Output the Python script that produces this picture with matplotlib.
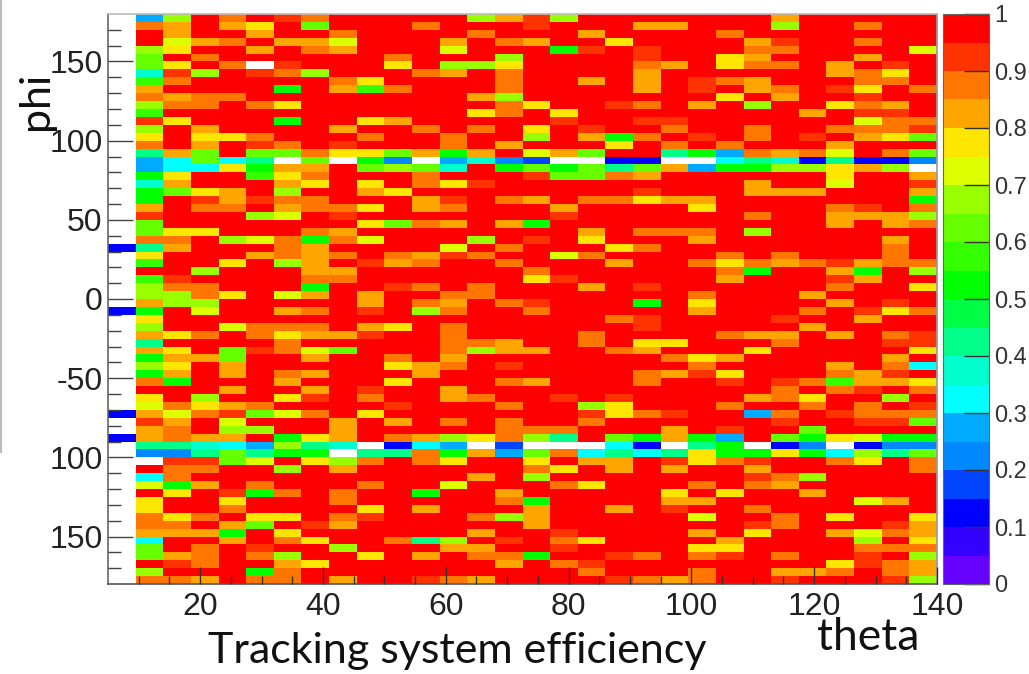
"""Tracking system efficiency map in theta and phi, ROOT COLZ look."""
import matplotlib

matplotlib.use("Agg")
import matplotlib.pyplot as plt  # noqa: E402
import numpy as np  # noqa: E402
from matplotlib.colors import BoundaryNorm, ListedColormap  # noqa: E402
from matplotlib.lines import Line2D  # noqa: E402

W, H = 1029, 674

# 20 palette steps of the colour bar, from 0 up to 1.
PALETTE = [
    "#6600ff", "#3300ff", "#0000ff", "#0044ff", "#0088ff",
    "#00aaff", "#00ffff", "#00ffcc", "#00ff88", "#00ff44",
    "#00ff00", "#33ff00", "#66ff00", "#99ff00", "#ddff00",
    "#ffe600", "#ffa500", "#ff7700", "#ff3300", "#ff0000",
]

# Cell codes: "." is about 0.98, "_" is an empty (white) cell.
CODE_VALUES = {
    ".": 0.98, "a": 0.93, "b": 0.88, "c": 0.83, "d": 0.78, "e": 0.73,
    "f": 0.68, "g": 0.63, "h": 0.58, "i": 0.53, "j": 0.48, "k": 0.43,
    "l": 0.38, "m": 0.33, "n": 0.28, "o": 0.23, "p": 0.18, "q": 0.13,
    "_": np.nan,
}

# One string per phi bin, top row (phi = 180) first; one character per theta bin.
EFF_ROWS = [
    "_nf.b.ab.....fc" "af.......c.....",
    "_bc.cd.g...b..." "a...cc...f..b..",
    "_.c..c..b....b." "..c....b.......",
    "_.ecb.cce...c.b" "c..d....ca..b..",
    "_fd..c.bc...e.." ".ia.a...bb....e",
    "_g.b......b...f" "....a..dc...c..",
    "_gd.b_a...d.ffd" "....bc.dbb.c.a.",
    "_laf.abf...bc.b" "....c......cbd.",
    "_hb.....bd....b" "..c.c.abc...bb.",
    "_c....i.chb...b" "....c.a.cb.ad.b",
    "_bcbb........cf" ".......d.c..a..",
    "_fbb.bd.......b" "d..ab.c.f..dbc.",
    "_h...........db" ".d........c.aa.",
    "_ad...i..dc...." ".a..aa......ebb",
    "_f.c....c..b.b." "d.a..b..b..bbba",
    "_d.ddb...b..b.." "f.cib.a.b.a.cdg",
    "_b.c.ab.a...b.c" "...d.b.b...c...",
    "_kcg.ggbddgcic." "ecg..kinbcbe.bg",
    "_nmgmk_g_io_nlo" "p__qq__mklqkqqo",
    "_nmmdicc.gfgl.i" "gigkgcniiffdcf_",
    "_id..hdb...b..." "aggbc......d..c",
    "_lc...cd.d.bda." "........c..e..a",
    "_igdc.f..cd...." "....a...ccc...c",
    "_i.acabb...ca.b" "c.bbdcc.......i",
    "_c.bb.cbbd.cb.." ".c....d....ba.b",
    "_a...fe.a......" ".a......b..cccf",
    "_g.......dgbc.c" "i..........c.cb",
    "_gdd...bc......" "..c.bbb.f......",
    "_bb.febibe...f." "a.d...c......c.",
    "qkc...bc....e.b" "...db........b.",
    "_d...cbcb.bcab." ".eb....b.b...b.",
    "_h..d.fc.acb..b" "...c..bdbcbacbb",
    "_..f...cc......" "b......bi..ci.f",
    "_ha....bb......" "da.....c...ac..",
    "_fbb...i..ab.b." "..c.a......b..d",
    "_ffbd.ec.c..bb." "......b...c....",
    "_cff.....c.bc.b" "a...i.d....c.a.",
    "qi.e..cb.a.fb.." "b.....c...b.adb",
    "_d............." "...ba....a..c..",
    "_f..ebbb.cd.b.." "....a.....c....",
    "_cdb.bdcca..b.." "..b....bcc.c.ba",
    "_k....b.....bbc" "..b.dd...b...aa",
    "_cd.gabeg...bfc" "c..bc...d.....d",
    "_iccg..c..b.c.." ".....bdc.....c.",
    "_fd.c.....dcb.a" "......b....c.bm",
    "_ic.c.bc...c..." "....bcad...bca.",
    "_bi...c...d...b" "c...b..a.abhccd",
    "_...c..c.a..c.." ".........b.ba.b",
    "_d.f..da.b..cb." ".a.a....cbd..f.",
    "_ebdcb....a...b" "..fd...b..b.b.a",
    "qcebageb.d....." "..adba..nb.abbb",
    "_ac.e...c.c.b.b" "..b......a..aag",
    "_cb.ff..c.....b" "bb...c.a..g....",
    "qcbcc.idc.bcfdb" "fk.gicin.gideii",
    "_kklmnfkl_qmn_p" "___mq_ki_qo_qoo",
    "_ookgkii_kkbicn" "gbmkmkdiidimfkg",
    "__aage.dfb.bd.." "d.cc.adba..bd.b",
    "_.bb..f.c......" "bd.c.c..c.....b",
    "_mb..........c." "f.......abf....",
    "_eic.b...b..e.." ".bd...b.bc.....",
    "_.d.aib.b..i..c" ".....d.d..c....",
    "_d..d...b.....b" "i....cc.....ec.",
    "_d..b....d.c..." "c..c.a..b......",
    "_bdb.dd.ba...bf" "c.....e..b.d..d",
    "_bb.cg.ac......" "c.......ab...ac",
    "_ccci.d......c." ".a....c.d..cebc",
    "_m..c.bd..bkf.a" ".bd....c....f.d",
    "_g.b.a..f...cc." ".a....dd....bbb",
    "_gcb.bf..d.c.bb" "i..ab.ba.b..a.f",
    "_.ab..cd......c" ".ba........dabc",
    "_f...ib........" "..b...b..ccb.bc",
    "_bbc.bb.c..abc." "...abcb..a...af",
]

THETA_RANGE = (5, 140)
PHI_RANGE = (-180, 180)
X_TICKS = [20, 40, 60, 80, 100, 120, 140]
X_MINOR = list(range(10, 140, 5))
Y_TICKS = [150, 100, 50, 0, -50, -100, -150]
Y_TICK_LABELS = ["150", "100", "50", "0", "-50", "100", "150"]
Y_MINOR = list(range(-170, 180, 10))
CBAR_TICKS = [0, 0.1, 0.2, 0.3, 0.4, 0.5, 0.6, 0.7, 0.8, 0.9, 1]
CBAR_LABELS = ["0", "0.1", "0.2", "0.3", "0.4", "0.5", "0.6", "0.7", "0.8", "0.9", "1"]

TICK_FONT = "Liberation Sans"
NOTE_FONT = "Lato"
TEXT = "#222222"


def px_axes(left, top, right, bottom):
    return [left / W, 1 - bottom / H, (right - left) / W, (bottom - top) / H]


def main():
    values = np.array([[CODE_VALUES[ch] for ch in row] for row in EFF_ROWS])[::-1]
    n_phi, n_theta = values.shape
    theta_edges = np.linspace(*THETA_RANGE, n_theta + 1)
    phi_edges = np.linspace(*PHI_RANGE, n_phi + 1)

    cmap = ListedColormap(PALETTE)
    cmap.set_bad("white")
    norm = BoundaryNorm(np.linspace(0, 1, len(PALETTE) + 1), cmap.N)

    fig = plt.figure(figsize=(W / 100, H / 100), dpi=100, facecolor="white")
    ax = fig.add_axes(px_axes(108, 14, 937, 584))
    mesh = ax.pcolormesh(theta_edges, phi_edges, np.ma.masked_invalid(values),
                         cmap=cmap, norm=norm, zorder=1)
    ax.set_xlim(*THETA_RANGE)
    ax.set_ylim(*PHI_RANGE)

    ax.set_xticks(X_TICKS)
    ax.set_xticks(X_MINOR, minor=True)
    ax.set_yticks(Y_TICKS)
    ax.set_yticklabels(Y_TICK_LABELS)
    ax.set_yticks(Y_MINOR, minor=True)
    ax.tick_params(axis="x", which="major", direction="in", length=12, width=1,
                   color="#333333", labelsize=23, labelcolor=TEXT, pad=6)
    ax.tick_params(axis="x", which="minor", direction="in", length=6, width=1,
                   color="#333333")
    ax.tick_params(axis="y", which="major", direction="in", length=18, width=1,
                   color="#444444", labelsize=23, labelcolor=TEXT, pad=4)
    ax.tick_params(axis="y", which="minor", direction="in", length=9, width=1,
                   color="#444444")
    ax.set_axisbelow(False)
    for label in ax.get_xticklabels() + ax.get_yticklabels():
        label.set_fontfamily(TICK_FONT)
    for side, color in [("left", "#666666"), ("bottom", "#555555"),
                        ("top", "#bbbbbb"), ("right", "#999999")]:
        ax.spines[side].set_color(color)
        ax.spines[side].set_linewidth(1.2)

    cax = fig.add_axes(px_axes(943, 14, 989, 584))
    cbar = fig.colorbar(mesh, cax=cax, spacing="proportional", drawedges=False)
    cbar.set_ticks(CBAR_TICKS)
    cbar.set_ticklabels(CBAR_LABELS)
    cbar.minorticks_off()
    cax.tick_params(axis="y", direction="in", length=18, width=1, color="#333333",
                    labelsize=17, labelcolor="#333333", pad=4)
    for label in cax.get_yticklabels():
        label.set_fontfamily(TICK_FONT)
    cbar.outline.set_edgecolor("#666666")
    cbar.outline.set_linewidth(0.8)

    fig.text(457 / W, 1 - 651 / H, "Tracking system efficiency", family=NOTE_FONT,
             fontsize=31, color="#111111", ha="center", va="center")
    fig.text(868 / W, 1 - 638 / H, "theta", family=NOTE_FONT, fontsize=32,
             color="#111111", ha="center", va="center")
    fig.text(36 / W, 1 - 101 / H, "phi", family=NOTE_FONT, fontsize=31,
             color="#111111", ha="center", va="center", rotation=90)

    # Edge of the cropped slide on the left.
    fig.add_artist(Line2D([0.5 / W, 0.5 / W], [1, 1 - 452 / H], color="#bbbbbb", lw=1.5))

    fig.savefig("out.png", dpi=100, facecolor="white")
    plt.close(fig)


if __name__ == "__main__":
    main()
